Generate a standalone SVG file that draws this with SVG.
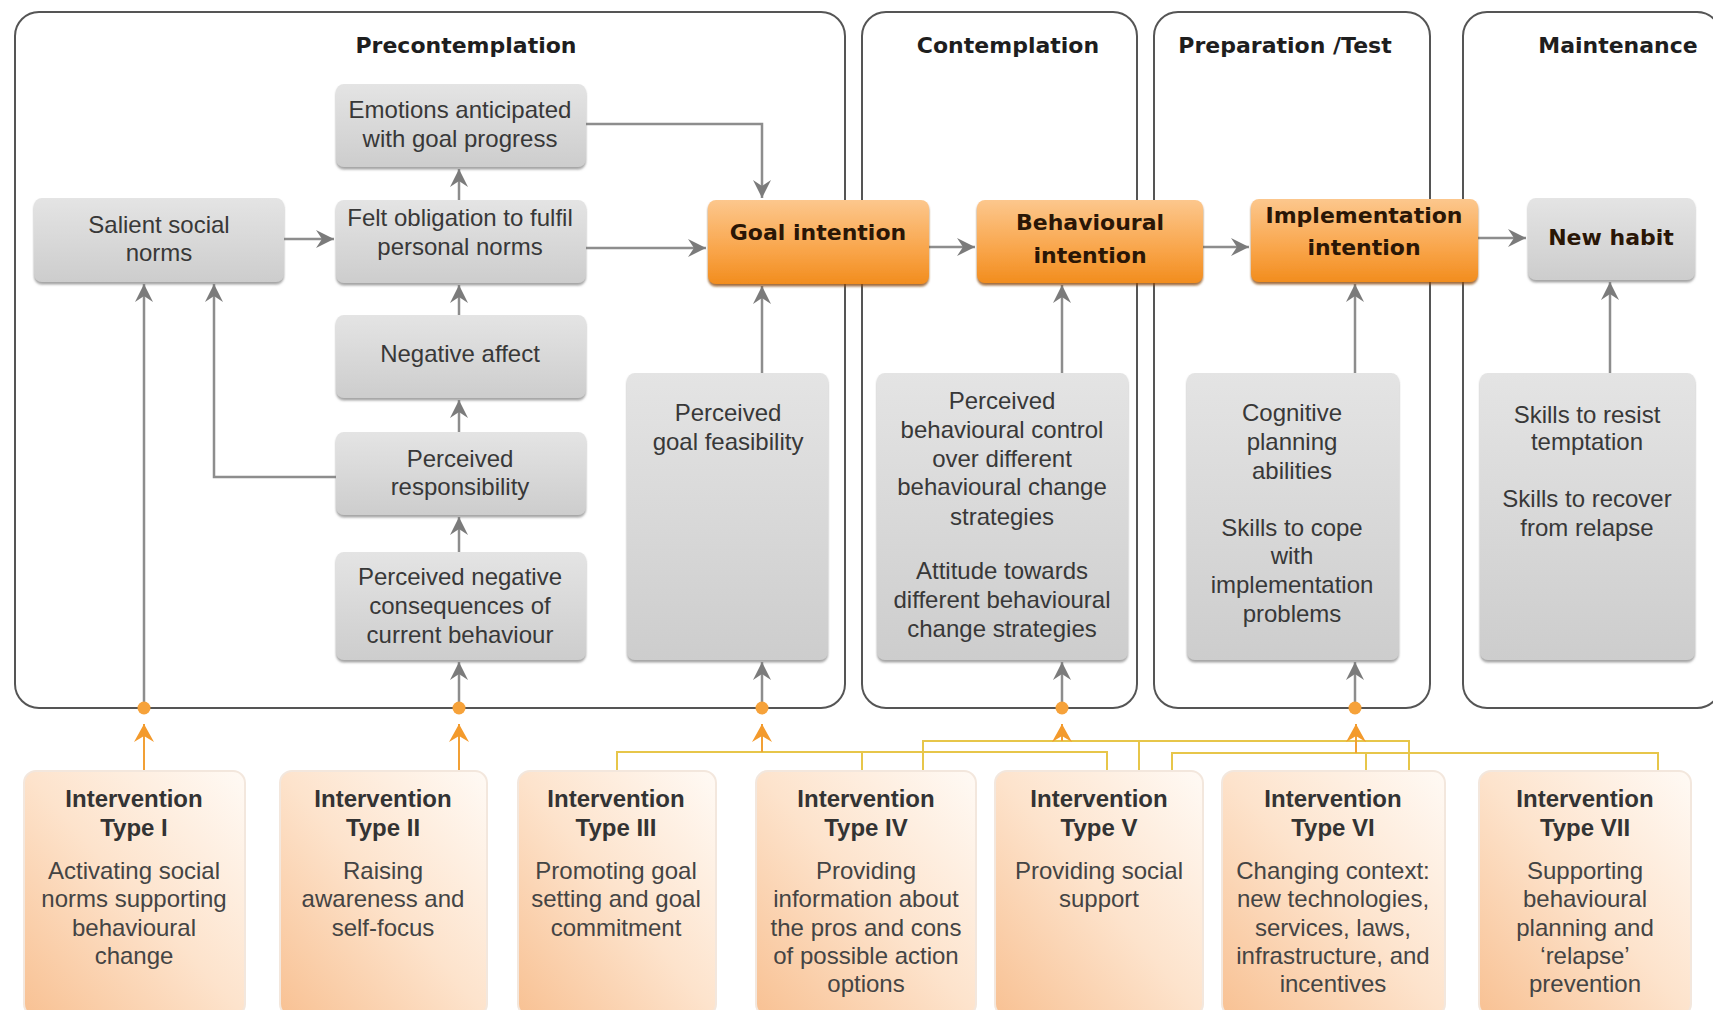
<svg xmlns="http://www.w3.org/2000/svg" width="1713" height="1010" viewBox="0 0 1713 1010">
<defs>
<linearGradient id="gGray" x1="0" y1="0" x2="0" y2="1">
<stop offset="0" stop-color="#e4e4e4"/><stop offset="1" stop-color="#cdcdcd"/>
</linearGradient>
<linearGradient id="gOrange" x1="0" y1="0" x2="0" y2="1">
<stop offset="0" stop-color="#fcc78d"/><stop offset="0.6" stop-color="#f9a54a"/><stop offset="1" stop-color="#f28d1e"/>
</linearGradient>
<linearGradient id="gPeach" x1="1" y1="0" x2="0" y2="1">
<stop offset="0" stop-color="#fffaf5"/><stop offset="0.5" stop-color="#fde3cc"/><stop offset="1" stop-color="#f8c193"/>
</linearGradient>
<filter id="sh" x="-5%" y="-5%" width="110%" height="115%">
<feDropShadow dx="0" dy="2.5" stdDeviation="1.2" flood-color="#7d7d7d" flood-opacity="0.7"/>
</filter>
<filter id="shO" x="-5%" y="-5%" width="110%" height="115%">
<feDropShadow dx="0" dy="2.5" stdDeviation="1" flood-color="#8a4a08" flood-opacity="0.8"/>
</filter>
<marker id="ga" markerUnits="userSpaceOnUse" markerWidth="20" markerHeight="18" refX="18" refY="9" orient="auto">
<path d="M0,0 L18,9 L0,18 L6,9 z" fill="#7b7b7b"/>
</marker>
<marker id="oa" markerUnits="userSpaceOnUse" markerWidth="22" markerHeight="20" refX="18" refY="10" orient="auto">
<path d="M0,0 L18,10 L0,20 L6,10 z" fill="#f39a2c"/>
</marker>
<style>
.panel{fill:#fff;stroke:#555;stroke-width:2}
.hdr{font-family:"DejaVu Sans",Verdana,sans-serif;font-weight:bold;font-size:22px;fill:#1e1e1e;text-anchor:middle}
.gbox{fill:url(#gGray);filter:url(#sh)}
.obox{fill:url(#gOrange);filter:url(#shO)}
.ibox{fill:url(#gPeach);stroke:#f3e7dd;stroke-width:2}
.t{font-family:"Liberation Sans",Arial,sans-serif;font-size:24px;fill:#383838;text-anchor:middle}
.ot{font-family:"DejaVu Sans",Verdana,sans-serif;font-weight:bold;font-size:22px;fill:#2a1606;text-anchor:middle}
.tb{font-family:"Liberation Sans",Arial,sans-serif;font-size:24px;font-weight:bold;fill:#333;text-anchor:middle}
.td{font-family:"Liberation Sans",Arial,sans-serif;font-size:24px;fill:#444;text-anchor:middle}
.con{fill:none;stroke:#8d8d8d;stroke-width:2.5;marker-end:url(#ga)}
.ycon{fill:none;stroke:#e7c64a;stroke-width:2}
.oarr{fill:none;stroke:#f2a035;stroke-width:2;marker-end:url(#oa)}
.dot{fill:#f6a23a}
</style>
</defs>
<rect width="1713" height="1010" fill="#fff"/>

<g id="panels">
<g id="panel-precontemplation"><rect class="panel" x="15" y="12" width="830" height="696" rx="24"/><text class="hdr" x="466" y="53">Precontemplation</text></g>
<g id="panel-contemplation"><rect class="panel" x="862" y="12" width="275" height="696" rx="24"/><text class="hdr" x="1008" y="53">Contemplation</text></g>
<g id="panel-preparation"><rect class="panel" x="1154" y="12" width="276" height="696" rx="24"/><text class="hdr" x="1285" y="53">Preparation /Test</text></g>
<g id="panel-maintenance"><rect class="panel" x="1463" y="12" width="258" height="696" rx="24"/><text class="hdr" x="1618" y="53">Maintenance</text></g>
</g>

<g id="connectors">
<path class="con" d="M284,239 H334"/>
<path class="con" d="M586,248 H706"/>
<path class="con" d="M586,124 H762 V198"/>
<path class="con" d="M459,200 V169"/>
<path class="con" d="M459,315 V285"/>
<path class="con" d="M459,432 V400"/>
<path class="con" d="M459,552 V517"/>
<path class="con" d="M336,477 H214 V284"/>
<path class="con" d="M144,708 V284"/>
<path class="con" d="M459,708 V662"/>
<path class="con" d="M762,708 V662"/>
<path class="con" d="M762,373 V286"/>
<path class="con" d="M1062,708 V662"/>
<path class="con" d="M1062,373 V285"/>
<path class="con" d="M1355,708 V662"/>
<path class="con" d="M1355,373 V284"/>
<path class="con" d="M1610,373 V282"/>
<path class="con" d="M929,247 H975"/>
<path class="con" d="M1203,247 H1249"/>
<path class="con" d="M1478,238 H1526"/>
<path class="ycon" d="M617,771 V752 H1107 V771 M862,752 V771"/>
<path class="ycon" d="M923,771 V741 H1409 V771 M1139,741 V771"/>
<path class="ycon" d="M1172,771 V753 H1658 V771 M1366,753 V771"/>
<path class="oarr" d="M144,771 V724"/>
<path class="oarr" d="M459,771 V724"/>
<path class="oarr" d="M762,752 V724"/>
<path class="oarr" d="M1062,741 V724"/>
<path class="oarr" d="M1356,753 V724"/>
<circle class="dot" cx="144" cy="708" r="6.5"/>
<circle class="dot" cx="459" cy="708" r="6.5"/>
<circle class="dot" cx="762" cy="708" r="6.5"/>
<circle class="dot" cx="1062" cy="708" r="6.5"/>
<circle class="dot" cx="1355" cy="708" r="6.5"/>
</g>

<g id="emotions"><rect class="gbox" x="336" y="84" width="250" height="83" rx="8"/>
<text class="t" x="460" y="118">Emotions anticipated</text><text class="t" x="460" y="147">with goal progress</text></g>
<g id="salient"><rect class="gbox" x="34" y="198" width="250" height="84" rx="8"/>
<text class="t" x="159" y="233">Salient social</text><text class="t" x="159" y="261">norms</text></g>
<g id="felt"><rect class="gbox" x="336" y="200" width="250" height="83" rx="8"/>
<text class="t" x="460" y="226">Felt obligation to fulfil</text><text class="t" x="460" y="255">personal norms</text></g>
<g id="negaffect"><rect class="gbox" x="336" y="315" width="250" height="83" rx="8"/>
<text class="t" x="460" y="362">Negative affect</text></g>
<g id="responsibility"><rect class="gbox" x="336" y="432" width="250" height="83" rx="8"/>
<text class="t" x="460" y="467">Perceived</text><text class="t" x="460" y="495">responsibility</text></g>
<g id="consequences"><rect class="gbox" x="336" y="552" width="250" height="108" rx="8"/>
<text class="t" x="460" y="585">Perceived negative</text><text class="t" x="460" y="614">consequences of</text><text class="t" x="460" y="643">current behaviour</text></g>
<g id="feasibility"><rect class="gbox" x="627" y="373" width="201" height="287" rx="8"/>
<text class="t" x="728" y="421">Perceived</text><text class="t" x="728" y="450">goal feasibility</text></g>
<g id="goal"><rect class="obox" x="708" y="200" width="221" height="84" rx="8"/>
<text class="ot" x="818" y="240">Goal intention</text></g>
<g id="behavioural"><rect class="obox" x="977" y="200" width="226" height="83" rx="8"/>
<text class="ot" x="1090" y="230">Behavioural</text><text class="ot" x="1090" y="263">intention</text></g>
<g id="implementation"><rect class="obox" x="1251" y="199" width="227" height="83" rx="8"/>
<text class="ot" x="1364" y="223">Implementation</text><text class="ot" x="1364" y="255">intention</text></g>
<g id="habit"><rect class="gbox" x="1528" y="198" width="167" height="82" rx="8"/>
<text class="ot" x="1611" y="245">New habit</text></g>
<g id="pbc"><rect class="gbox" x="877" y="373" width="251" height="287" rx="8"/>
<text class="t" x="1002" y="409">Perceived</text><text class="t" x="1002" y="438">behavioural control</text><text class="t" x="1002" y="467">over different</text><text class="t" x="1002" y="495">behavioural change</text><text class="t" x="1002" y="525">strategies</text>
<text class="t" x="1002" y="579">Attitude towards</text><text class="t" x="1002" y="608">different behavioural</text><text class="t" x="1002" y="637">change strategies</text></g>
<g id="cognitive"><rect class="gbox" x="1187" y="373" width="212" height="287" rx="8"/>
<text class="t" x="1292" y="421">Cognitive</text><text class="t" x="1292" y="450">planning</text><text class="t" x="1292" y="479">abilities</text>
<text class="t" x="1292" y="536">Skills to cope</text><text class="t" x="1292" y="564">with</text><text class="t" x="1292" y="593">implementation</text><text class="t" x="1292" y="622">problems</text></g>
<g id="skills"><rect class="gbox" x="1480" y="373" width="215" height="287" rx="8"/>
<text class="t" x="1587" y="423">Skills to resist</text><text class="t" x="1587" y="450">temptation</text>
<text class="t" x="1587" y="507">Skills to recover</text><text class="t" x="1587" y="536">from relapse</text></g>

<g id="int1"><rect class="ibox" x="24" y="771" width="221" height="245" rx="12"/>
<text class="tb" x="134" y="807">Intervention</text><text class="tb" x="134" y="836">Type I</text>
<text class="td" x="134" y="879">Activating social</text><text class="td" x="134" y="907">norms supporting</text><text class="td" x="134" y="936">behavioural</text><text class="td" x="134" y="964">change</text></g>
<g id="int2"><rect class="ibox" x="280" y="771" width="207" height="245" rx="12"/>
<text class="tb" x="383" y="807">Intervention</text><text class="tb" x="383" y="836">Type II</text>
<text class="td" x="383" y="879">Raising</text><text class="td" x="383" y="907">awareness and</text><text class="td" x="383" y="936">self-focus</text></g>
<g id="int3"><rect class="ibox" x="518" y="771" width="198" height="245" rx="12"/>
<text class="tb" x="616" y="807">Intervention</text><text class="tb" x="616" y="836">Type III</text>
<text class="td" x="616" y="879">Promoting goal</text><text class="td" x="616" y="907">setting and goal</text><text class="td" x="616" y="936">commitment</text></g>
<g id="int4"><rect class="ibox" x="756" y="771" width="220" height="245" rx="12"/>
<text class="tb" x="866" y="807">Intervention</text><text class="tb" x="866" y="836">Type IV</text>
<text class="td" x="866" y="879">Providing</text><text class="td" x="866" y="907">information about</text><text class="td" x="866" y="936">the pros and cons</text><text class="td" x="866" y="964">of possible action</text><text class="td" x="866" y="992">options</text></g>
<g id="int5"><rect class="ibox" x="995" y="771" width="208" height="245" rx="12"/>
<text class="tb" x="1099" y="807">Intervention</text><text class="tb" x="1099" y="836">Type V</text>
<text class="td" x="1099" y="879">Providing social</text><text class="td" x="1099" y="907">support</text></g>
<g id="int6"><rect class="ibox" x="1222" y="771" width="223" height="245" rx="12"/>
<text class="tb" x="1333" y="807">Intervention</text><text class="tb" x="1333" y="836">Type VI</text>
<text class="td" x="1333" y="879">Changing context:</text><text class="td" x="1333" y="907">new technologies,</text><text class="td" x="1333" y="936">services, laws,</text><text class="td" x="1333" y="964">infrastructure, and</text><text class="td" x="1333" y="992">incentives</text></g>
<g id="int7"><rect class="ibox" x="1479" y="771" width="212" height="245" rx="12"/>
<text class="tb" x="1585" y="807">Intervention</text><text class="tb" x="1585" y="836">Type VII</text>
<text class="td" x="1585" y="879">Supporting</text><text class="td" x="1585" y="907">behavioural</text><text class="td" x="1585" y="936">planning and</text><text class="td" x="1585" y="964">‘relapse’</text><text class="td" x="1585" y="992">prevention</text></g>
</svg>
